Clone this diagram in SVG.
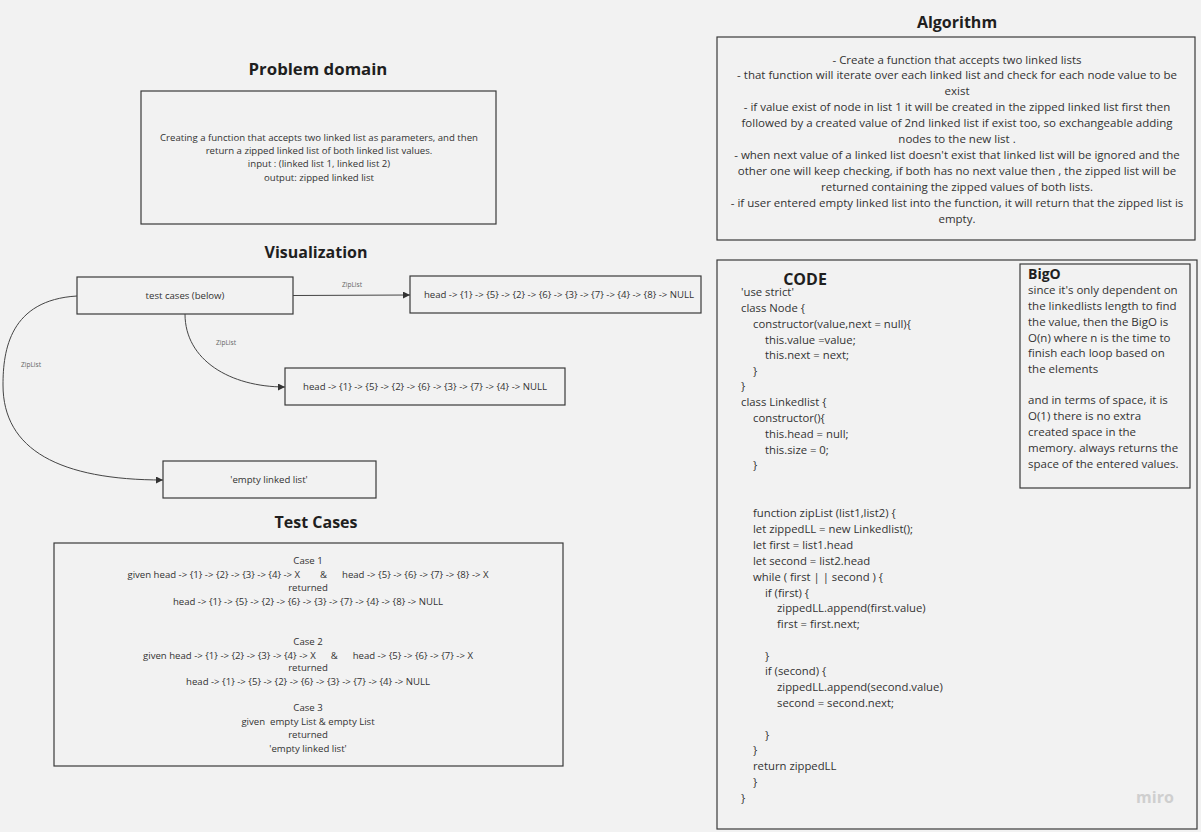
<svg xmlns="http://www.w3.org/2000/svg" width="1201" height="832" viewBox="0 0 1201 832">
<style>
.bg{fill:#f2f2f2}
.box{fill:#f2f2f2;stroke:#3a3a3a;stroke-width:1.2}
.title{font-family:"Open Sans","Noto Sans",sans-serif;font-weight:bold;font-size:16px;fill:#1f1f1f;text-anchor:middle}
.t{font-family:"Open Sans","Noto Sans",sans-serif;fill:#333;text-anchor:middle}
.s9{font-size:9.6px}
.s10{font-size:11.5px}
.code{font-family:"Open Sans","Noto Sans",sans-serif;font-size:11.3px;fill:#333}
.big{font-family:"Open Sans","Noto Sans",sans-serif;font-size:11.5px;fill:#333}
.lbl{font-family:"Open Sans","Noto Sans",sans-serif;font-size:6.6px;fill:#666;text-anchor:middle}
.conn{fill:none;stroke:#444;stroke-width:1}
</style>
<defs>
<marker id="arr" viewBox="0 0 10 10" refX="10" refY="5" markerWidth="7" markerHeight="7" orient="auto" markerUnits="userSpaceOnUse">
<path d="M0,0 L10,5 L0,10 z" fill="#333"/>
</marker>
</defs>
<rect class="bg" x="0" y="0" width="1201" height="832"/>

<g id="problem-domain">
<text class="title" x="318" y="75" style="font-size:16.8px">Problem domain</text>
<rect class="box" x="141" y="91" width="355" height="133"/>
<text class="t s9" x="319" y="141">Creating a function that accepts two linked list as parameters, and then</text>
<text class="t s9" x="319" y="154">return a zipped linked list of both linked list values.</text>
<text class="t s9" x="319" y="167">input : (linked list 1, linked list 2)</text>
<text class="t s9" x="319" y="181">output: zipped linked list</text>
</g>

<g id="visualization-title">
<text class="title" x="316" y="258">Visualization</text>
</g>

<g id="node-testcases">
<rect class="box" x="77" y="277" width="216" height="37"/>
<text class="t s9" x="185" y="299">test cases (below)</text>
</g>
<g id="node-result1">
<rect class="box" x="410" y="276" width="291" height="37"/>
<text class="t s9" x="559" y="298">head -&gt; {1} -&gt; {5} -&gt; {2} -&gt; {6} -&gt; {3} -&gt; {7} -&gt; {4} -&gt; {8} -&gt; NULL</text>
</g>
<g id="node-result2">
<rect class="box" x="285" y="368" width="280" height="37"/>
<text class="t s9" x="425" y="390">head -&gt; {1} -&gt; {5} -&gt; {2} -&gt; {6} -&gt; {3} -&gt; {7} -&gt; {4} -&gt; NULL</text>
</g>
<g id="node-empty">
<rect class="box" x="163" y="461" width="213" height="37"/>
<text class="t s9" x="269" y="483">'empty linked list'</text>
</g>

<g id="connectors">
<path class="conn" d="M293,295.5 L410,295" marker-end="url(#arr)"/>
<text class="lbl" x="352" y="287">ZipList</text>
<path class="conn" d="M185,314 C185,360 230,387 285,387" marker-end="url(#arr)"/>
<text class="lbl" x="226" y="345">ZipList</text>
<path class="conn" d="M77,296 C10,300 3,350 3,385 C3,450 60,480 163,480" marker-end="url(#arr)"/>
<text class="lbl" x="31" y="367">ZipList</text>
</g>

<g id="test-cases">
<text class="title" x="316" y="528">Test Cases</text>
<rect class="box" x="54" y="543" width="509" height="223"/>
<text class="t s9" x="308" y="564">Case 1</text>
<text class="t s9" x="308" y="578" xml:space="preserve">given head -&gt; {1} -&gt; {2} -&gt; {3} -&gt; {4} -&gt; X        &amp;      head -&gt; {5} -&gt; {6} -&gt; {7} -&gt; {8} -&gt; X</text>
<text class="t s9" x="308" y="591">returned</text>
<text class="t s9" x="308" y="605">head -&gt; {1} -&gt; {5} -&gt; {2} -&gt; {6} -&gt; {3} -&gt; {7} -&gt; {4} -&gt; {8} -&gt; NULL</text>
<text class="t s9" x="308" y="645">Case 2</text>
<text class="t s9" x="308" y="659" xml:space="preserve">given head -&gt; {1} -&gt; {2} -&gt; {3} -&gt; {4} -&gt; X      &amp;      head -&gt; {5} -&gt; {6} -&gt; {7} -&gt; X</text>
<text class="t s9" x="308" y="671">returned</text>
<text class="t s9" x="308" y="685">head -&gt; {1} -&gt; {5} -&gt; {2} -&gt; {6} -&gt; {3} -&gt; {7} -&gt; {4} -&gt; NULL</text>
<text class="t s9" x="308" y="711">Case 3</text>
<text class="t s9" x="308" y="725" xml:space="preserve">given  empty List &amp; empty List</text>
<text class="t s9" x="308" y="738">returned</text>
<text class="t s9" x="308" y="752">'empty linked list'</text>
</g>

<g id="algorithm">
<text class="title" x="957" y="28">Algorithm</text>
<rect class="box" x="717" y="37" width="478" height="203"/>
<text class="t s10" x="957" y="64">- Create a function that accepts two linked lists</text>
<text class="t s10" x="957" y="79">- that function will iterate over each linked list and check for each node value to be</text>
<text class="t s10" x="957" y="95">exist</text>
<text class="t s10" x="957" y="111">- if value exist of node in list 1 it will be created in the zipped linked list first then</text>
<text class="t s10" x="957" y="127">followed by a created value of 2nd linked list if exist too, so exchangeable adding</text>
<text class="t s10" x="957" y="143">nodes to the new list .</text>
<text class="t s10" x="957" y="159">- when next value of a linked list doesn't exist that linked list will be ignored and the</text>
<text class="t s10" x="957" y="175">other one will keep checking, if both has no next value then , the zipped list will be</text>
<text class="t s10" x="957" y="191">returned containing the zipped values of both lists.</text>
<text class="t s10" x="957" y="207">- if user entered empty linked list into the function, it will return that the zipped list is</text>
<text class="t s10" x="957" y="223">empty.</text>
</g>

<g id="code">
<rect class="box" x="717" y="260" width="480" height="569"/>
<text class="title" x="805" y="285">CODE</text>
<text class="code" x="741" y="296">'use strict'</text>
<text class="code" x="741" y="312">class Node {</text>
<text class="code" x="753" y="328">constructor(value,next = null){</text>
<text class="code" x="765" y="344">this.value =value;</text>
<text class="code" x="765" y="359">this.next = next;</text>
<text class="code" x="753" y="375">}</text>
<text class="code" x="741" y="390">}</text>
<text class="code" x="741" y="406">class Linkedlist {</text>
<text class="code" x="753" y="422">constructor(){</text>
<text class="code" x="765" y="438">this.head = null;</text>
<text class="code" x="765" y="454">this.size = 0;</text>
<text class="code" x="753" y="469">}</text>
<text class="code" x="753" y="517">function zipList (list1,list2) {</text>
<text class="code" x="753" y="533">let zippedLL = new Linkedlist();</text>
<text class="code" x="753" y="549">let first = list1.head</text>
<text class="code" x="753" y="565">let second = list2.head</text>
<text class="code" x="753" y="581" xml:space="preserve">while ( first | | second ) {</text>
<text class="code" x="765" y="597">if (first) {</text>
<text class="code" x="777" y="612">zippedLL.append(first.value)</text>
<text class="code" x="777" y="628">first = first.next;</text>
<text class="code" x="765" y="660">}</text>
<text class="code" x="765" y="675">if (second) {</text>
<text class="code" x="777" y="691">zippedLL.append(second.value)</text>
<text class="code" x="777" y="707">second = second.next;</text>
<text class="code" x="765" y="739">}</text>
<text class="code" x="753" y="754">}</text>
<text class="code" x="753" y="770">return zippedLL</text>
<text class="code" x="753" y="786">}</text>
<text class="code" x="741" y="802">}</text>
</g>

<g id="bigo">
<rect class="box" x="1020" y="264" width="170" height="224"/>
<text x="1028" y="279" style="font-family:'Open Sans','Noto Sans',sans-serif;font-weight:bold;font-size:14px;fill:#1f1f1f">BigO</text>
<text class="big" x="1028" y="294">since it's only dependent on</text>
<text class="big" x="1028" y="310">the linkedlists length to find</text>
<text class="big" x="1028" y="326">the value, then the BigO is</text>
<text class="big" x="1028" y="342">O(n) where n is the time to</text>
<text class="big" x="1028" y="357">finish each loop based on</text>
<text class="big" x="1028" y="373">the elements</text>
<text class="big" x="1028" y="404">and in terms of space, it is</text>
<text class="big" x="1028" y="420">O(1) there is no extra</text>
<text class="big" x="1028" y="436">created space in the</text>
<text class="big" x="1028" y="452">memory. always returns the</text>
<text class="big" x="1028" y="468">space of the entered values.</text>
</g>

<g id="miro-mark">
<text x="1155" y="803" style="font-family:'Open Sans','Noto Sans',sans-serif;font-weight:bold;font-size:16px;fill:#cfcfcf;text-anchor:middle">miro</text>
</g>
</svg>
